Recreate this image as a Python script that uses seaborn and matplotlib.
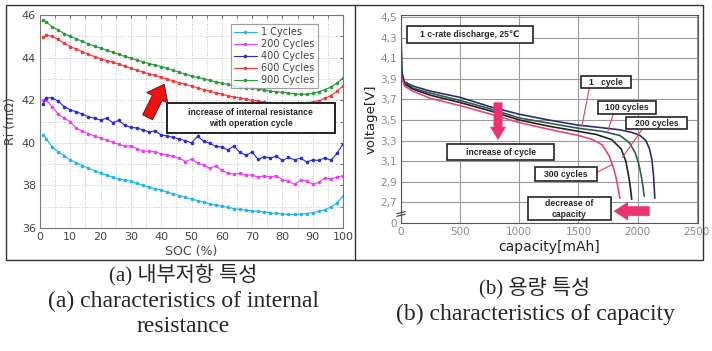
import numpy as np
import pandas as pd
import seaborn as sns
import matplotlib.pyplot as plt
from matplotlib.patches import Rectangle
from matplotlib.lines import Line2D

# ---- (a) internal resistance vs SOC
soc = [1, 2, 4, 6, 8, 10, 12, 14, 16, 18, 20, 22, 24, 26, 28, 30, 32, 34, 36, 38, 40,
       42, 44, 46, 48, 50, 52, 54, 56, 58, 60, 62, 64, 66, 68, 70, 72, 74, 76, 78, 80,
       82, 84, 86, 88, 90, 92, 94, 96, 98, 100]
ri_1 = [40.38, 40.2, 39.82, 39.58, 39.38, 39.2, 39.06, 38.93, 38.81, 38.69, 38.58,
        38.48, 38.38, 38.31, 38.25, 38.19, 38.1, 38.0, 37.92, 37.85, 37.77, 37.69,
        37.6, 37.52, 37.44, 37.36, 37.29, 37.21, 37.14, 37.08, 37.02, 36.97, 36.91,
        36.87, 36.84, 36.81, 36.78, 36.75, 36.72, 36.69, 36.66, 36.64, 36.64, 36.65,
        36.68, 36.72, 36.78, 36.86, 36.98, 37.18, 37.5]
ri_200 = [42.02, 42.0, 41.7, 41.35, 41.15, 41.0, 40.68, 40.56, 40.42, 40.32, 40.22,
          40.13, 40.03, 39.93, 39.83, 39.86, 39.72, 39.62, 39.6, 39.58, 39.48, 39.42,
          39.37, 39.28, 39.12, 39.23, 39.05, 38.95, 38.8, 38.92, 38.7, 38.58, 38.52,
          38.56, 38.5, 38.48, 38.39, 38.45, 38.4, 38.45, 38.27, 38.19, 38.05, 38.25,
          38.2, 38.06, 38.14, 38.36, 38.3, 38.4, 38.45]
ri_400 = [41.83, 42.1, 42.12, 41.95, 41.7, 41.55, 41.45, 41.35, 41.22, 41.15, 41.07,
          41.15, 40.95, 41.05, 40.82, 40.72, 40.7, 40.6, 40.52, 40.55, 40.37, 40.32,
          40.25, 40.18, 40.1, 40.0, 40.3, 40.08, 39.98, 39.83, 39.8, 39.67, 39.85,
          39.55, 39.42, 39.56, 39.22, 39.35, 39.28, 39.38, 39.17, 39.31, 39.2, 39.28,
          39.1, 39.2, 39.17, 39.3, 39.18, 39.5, 39.95]
ri_600 = [44.95, 45.05, 45.0, 44.85, 44.68, 44.52, 44.4, 44.27, 44.15, 44.05, 43.95,
          43.86, 43.78, 43.7, 43.6, 43.5, 43.41, 43.32, 43.24, 43.16, 43.08, 42.99,
          42.9, 42.82, 42.74, 42.67, 42.58, 42.5, 42.42, 42.35, 42.28, 42.21, 42.15,
          42.1, 42.04, 42.0, 41.95, 41.91, 41.88, 41.86, 41.85, 41.84, 41.84, 41.85,
          41.88, 41.92, 41.98, 42.08, 42.22, 42.42, 42.67]
ri_900 = [45.77, 45.68, 45.45, 45.3, 45.12, 45.0, 44.88, 44.76, 44.64, 44.54, 44.45,
          44.35, 44.25, 44.15, 44.06, 43.97, 43.89, 43.8, 43.72, 43.65, 43.58, 43.49,
          43.4, 43.31, 43.22, 43.14, 43.07, 43.0, 42.93, 42.86, 42.8, 42.74, 42.68,
          42.63, 42.59, 42.56, 42.52, 42.47, 42.43, 42.4, 42.37, 42.33, 42.3, 42.28,
          42.28, 42.32, 42.4, 42.5, 42.62, 42.8, 43.03]
ri_labels = ['1 Cycles', '200 Cycles', '400 Cycles', '600 Cycles', '900 Cycles']
ri_colors = ['#25b4ea', '#f03cf0', '#2a2ad8', '#f23838', '#2a9a3a']

# ---- (b) discharge curves
cap_1 = [0, 10, 30, 100, 250, 500, 750, 1000, 1250, 1500, 1700, 1850, 1950, 2020,
         2070, 2100, 2120, 2135, 2145]
v_1 = [4.35, 3.95, 3.87, 3.83, 3.78, 3.72, 3.63, 3.556, 3.5, 3.45, 3.425, 3.405,
       3.38, 3.35, 3.3, 3.22, 3.12, 2.95, 2.74]
cap_100 = [0, 30, 100, 250, 500, 750, 1000, 1250, 1500, 1700, 1850, 1930, 1980,
           2010, 2030, 2045, 2055]
v_100 = [3.95, 3.86, 3.81, 3.76, 3.69, 3.61, 3.52, 3.47, 3.42, 3.39, 3.35, 3.28,
         3.18, 3.07, 2.96, 2.85, 2.76]
cap_200 = [0, 30, 100, 250, 500, 750, 1000, 1250, 1500, 1650, 1780, 1860, 1900,
           1925, 1940, 1950]
v_200 = [3.95, 3.85, 3.8, 3.74, 3.67, 3.59, 3.5, 3.44, 3.39, 3.36, 3.31, 3.22,
         3.1, 2.95, 2.83, 2.73]
cap_300 = [0, 30, 100, 250, 500, 750, 1000, 1250, 1500, 1620, 1700, 1760, 1800,
           1825, 1840, 1850]
v_300 = [3.93, 3.83, 3.78, 3.71, 3.64, 3.56, 3.475, 3.41, 3.35, 3.31, 3.26, 3.15,
         3.02, 2.9, 2.8, 2.74]
cyc_labels = ['1 cycle', '100 cycles', '200 cycles', '300 cycles']
cyc_colors = ['#2b2f6e', '#2f5e4a', '#222222', '#e8457a']
volt_ticks = [2.7, 2.9, 3.1, 3.3, 3.5, 3.7, 3.9, 4.1, 4.3, 4.5]
cap_ticks = [0, 500, 1000, 1500, 2000, 2500]

sns.set_style('white')
plt.rcParams['font.family'] = ['DejaVu Sans']

fig = plt.figure(figsize=(7.12, 3.51), dpi=100)
W, H = 712, 351


def px_axes(x0, y0, x1, y1):
    return fig.add_axes([x0 / W, 1 - y1 / H, (x1 - x0) / W, (y1 - y0) / H])


# outer table frame
fig.add_artist(Rectangle((6 / W, 1 - 260 / H), 697 / W, 255 / H, fill=False,
                         ec='#333333', lw=1.0, transform=fig.transFigure))
fig.add_artist(Line2D([355 / W, 355 / W], [1 - 260 / H, 1 - 5 / H], color='#333333',
                      lw=1.0, transform=fig.transFigure))

box_font = ['Liberation Sans', 'DejaVu Sans']

# ================= left chart
ax = px_axes(40, 15, 343, 228)
df = pd.concat([pd.DataFrame({'SOC': soc, 'Ri': r, 'cyc': lab})
                for r, lab in zip([ri_1, ri_200, ri_400, ri_600, ri_900], ri_labels)])
sns.lineplot(data=df, x='SOC', y='Ri', hue='cyc', palette=dict(zip(ri_labels, ri_colors)),
             estimator=None, sort=False, marker='o', markersize=2.6, markeredgewidth=0,
             linewidth=0.8, legend=False, ax=ax)
ax.set_xlim(0, 100)
ax.set_ylim(36, 46)
ax.set_xticks(range(0, 101, 10))
ax.set_xticks(range(0, 101, 5), minor=True)
ax.set_yticks(range(36, 47, 2))
ax.set_yticks(range(36, 47, 1), minor=True)
ax.grid(which='both', linestyle=':', color='#c4c4c4', linewidth=0.7)
ax.tick_params(which='both', direction='in', top=True, right=True, colors='#666666',
               labelcolor='#444444', labelsize=8, length=2.5, pad=3)
for s in ax.spines.values():
    s.set_color('#777777')
ax.set_xlabel('SOC (%)', fontsize=9, color='#444444', labelpad=2)
ax.set_ylabel('Ri (mΩ)', fontsize=9, color='#444444', labelpad=3)

leg = ax.legend(ax.lines[:5], ri_labels, loc='upper right', bbox_to_anchor=(0.934, 0.981),
                fontsize=7, labelspacing=0.2, handlelength=2.3, handletextpad=0.5,
                borderpad=0.35, frameon=True, fancybox=False, edgecolor='#888888')
leg.get_frame().set_linewidth(0.8)
for t in leg.get_texts():
    t.set_color('#444444')

ax.annotate('', xy=(41, 42.75), xytext=(35.5, 41.2),
            arrowprops=dict(arrowstyle='simple,head_length=0.55,head_width=0.85,tail_width=0.4',
                            mutation_scale=20, fc='#ee1111', ec='#551111', lw=0.6,
                            shrinkA=0, shrinkB=0))
ax.add_patch(Rectangle((41.9, 40.46), 55.5, 1.41, fc='white', ec='#222222', lw=1.4, zorder=5))
ax.text(69.6, 41.17, 'increase of internal resistance\nwith operation cycle', ha='center',
        va='center', fontsize=6.2, fontweight='bold', family=box_font,
        linespacing=1.35, zorder=6)

# ================= right chart
bx = px_axes(401, 15, 698, 223)
df2 = pd.concat([pd.DataFrame({'cap': c, 'v': v, 'cyc': lab})
                 for c, v, lab in zip([cap_1, cap_100, cap_200, cap_300],
                                      [v_1, v_100, v_200, v_300], cyc_labels)])
sns.lineplot(data=df2, x='cap', y='v', hue='cyc', palette=dict(zip(cyc_labels, cyc_colors)),
             estimator=None, sort=False, linewidth=1.2, legend=False, ax=bx)
bx.set_xlim(0, 2510)
bx.set_ylim(2.5, 4.52)
bx.set_xticks(cap_ticks)
bx.set_yticks([2.5] + volt_ticks)
bx.set_yticklabels(['0'] + [f'{v:.1f}'.replace('.', ',') for v in volt_ticks])
bx.grid(True, color='#9a9a9a', linewidth=0.8)
bx.tick_params(length=0, labelsize=7.5, labelcolor='#8a8a8a', pad=3)
for s in bx.spines.values():
    s.set_color('#555555')
bx.set_xlabel('capacity[mAh]', fontsize=10, color='#222222', labelpad=2)
bx.set_ylabel('voltage[V]', fontsize=9.5, color='#222222', labelpad=2)
# axis break mark
for yb in (2.575, 2.6):
    bx.plot([-35, 35], [yb - 0.01, yb + 0.01], color='#333333', lw=0.8, clip_on=False)


def box(x0, x1, y0, y1, text):
    bx.add_patch(Rectangle((x0, y0), x1 - x0, y1 - y0, fc='white', ec='#222222',
                           lw=1.2, zorder=5))
    bx.text((x0 + x1) / 2, (y0 + y1) / 2, text, ha='center', va='center', fontsize=6.2,
            fontweight='bold', family=box_font, linespacing=1.35, zorder=6)


pink = '#e8336e'
for (x0, y0), (x1, y1) in [((1591, 3.808), (1529, 3.443)), ((1793, 3.556), (1745, 3.379)),
                           ((2039, 3.411), (1871, 3.136)), ((1653, 2.99), (1787, 3.07))]:
    bx.plot([x0, x1], [y0, y1], color='#e84060', lw=0.8, zorder=4)

box(50, 1115, 4.251, 4.413, '1 c-rate discharge, 25℃')
box(1521, 1941, 3.808, 3.928, '1   cycle')
box(1661, 2151, 3.563, 3.686, '100 cycles')
box(1899, 2417, 3.411, 3.530, '200 cycles')
box(387, 1297, 3.110, 3.265, 'increase of cycle')
box(1129, 1653, 2.910, 3.039, '300 cycles')
box(1073, 1773, 2.528, 2.748, 'decrease of\ncapacity')

bx.annotate('', xy=(820, 3.31), xytext=(820, 3.67),
            arrowprops=dict(arrowstyle='simple,head_length=0.45,head_width=0.55,tail_width=0.3',
                            mutation_scale=20, fc=pink, ec=pink, lw=0.3, shrinkA=0, shrinkB=0))
bx.annotate('', xy=(1800, 2.615), xytext=(2100, 2.615),
            arrowprops=dict(arrowstyle='simple,head_length=0.5,head_width=0.65,tail_width=0.34',
                            mutation_scale=20, fc=pink, ec=pink, lw=0.3, shrinkA=0, shrinkB=0),
            zorder=6)

# ================= captions
cap_font = ['Liberation Serif', 'Noto Sans CJK KR']
fig.text(183 / W, 1 - 275 / H, '(a) 내부저항 특성', ha='center', va='center',
         fontsize=15, family=cap_font)
fig.text(183 / W, 1 - 301 / H, '(a) characteristics of internal', ha='center',
         va='center', fontsize=17, family=cap_font)
fig.text(183 / W, 1 - 327 / H, 'resistance', ha='center', va='center', fontsize=17,
         family=cap_font)
fig.text(535 / W, 1 - 288 / H, '(b) 용량 특성', ha='center', va='center', fontsize=15,
         family=cap_font)
fig.text(535 / W, 1 - 314 / H, '(b) characteristics of capacity', ha='center',
         va='center', fontsize=17, family=cap_font)

fig.savefig('out.png', dpi=100)
